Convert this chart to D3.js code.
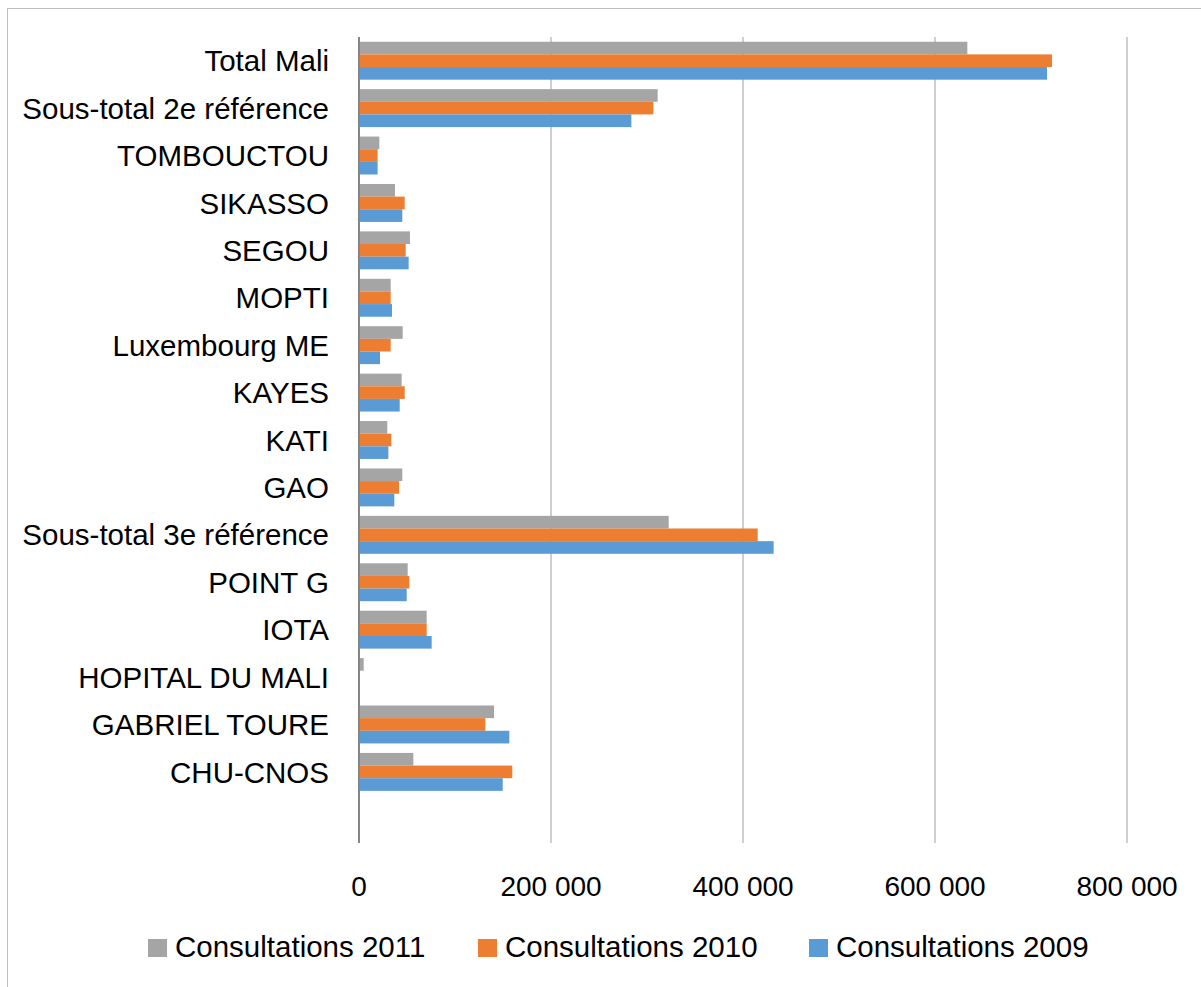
<!DOCTYPE html>
<html>
<head>
<meta charset="utf-8">
<script src="https://cdn.jsdelivr.net/npm/d3@7"></script>
<style>
  body { margin: 0; background: #fff; }
  text { font-family: "Liberation Sans", Arial, sans-serif; fill: #000; }
</style>
</head>
<body>
<script>
// categories top to bottom (last one is an empty slot, like the original sheet)
var categories = [
  'Total Mali', 'Sous-total 2e référence', 'TOMBOUCTOU', 'SIKASSO', 'SEGOU', 'MOPTI',
  'Luxembourg ME', 'KAYES', 'KATI', 'GAO', 'Sous-total 3e référence', 'POINT G',
  'IOTA', 'HOPITAL DU MALI', 'GABRIEL TOURE', 'CHU-CNOS', ''
];

var cons2011 = [633700, 311100, 21200, 37500, 53100, 33000, 45500, 44400, 29500, 45100, 322600, 50700, 70500, 4900, 140600, 56600, 0];
var cons2010 = [721900, 306600, 19400, 47600, 48600, 33000, 33000, 47600, 33700, 41700, 415300, 52400, 70500, 0, 131600, 159700, 0];
var cons2009 = [716700, 283700, 19400, 45100, 51700, 34400, 21900, 42400, 30600, 36800, 431900, 49700, 75700, 0, 156600, 149700, 0];

var seriesNames = ['Consultations 2011', 'Consultations 2010', 'Consultations 2009'];
var seriesValues = [cons2011, cons2010, cons2009];
var colors = ['#A5A5A5', '#ED7D31', '#5B9BD5'];
var xTicks = [0, 200000, 400000, 600000, 800000];

var W = 1201, H = 987;
var margin = {top: 37, left: 359};
var plotW = 1127 - 359, plotH = 843 - 37;

var svg = d3.select('body').append('svg')
  .attr('width', W)
  .attr('height', H);

// outer frame (only top/left edges visible in the picture)
svg.append('rect')
  .attr('x', 7.5).attr('y', 8.5)
  .attr('width', W + 20).attr('height', H + 20)
  .attr('fill', 'none')
  .attr('stroke', '#BFBFBF');

var g = svg.append('g')
  .attr('transform', 'translate(' + margin.left + ',' + margin.top + ')');

var x = d3.scaleLinear().domain([0, 800000]).range([0, plotW]);
var y = d3.scaleBand().domain(d3.range(categories.length)).range([0, plotH]).paddingInner(0.2).paddingOuter(0.1);
var ySub = d3.scaleBand().domain(d3.range(seriesNames.length)).range([0, y.bandwidth()]);

// gridlines
g.selectAll('.grid')
  .data(xTicks.slice(1))
  .enter().append('line')
  .attr('x1', function(d) { return x(d); })
  .attr('x2', function(d) { return x(d); })
  .attr('y1', 0).attr('y2', plotH)
  .attr('stroke', '#BFBFBF')
  .attr('stroke-width', 1.5);

// bars
seriesValues.forEach(function(vals, s) {
  var rows = vals.map(function(v, i) { return {i: i, v: v}; })
    .filter(function(d) { return d.v > 0; });
  g.selectAll('.bar' + s)
    .data(rows)
    .enter().append('rect')
    .attr('x', 0)
    .attr('y', function(d) { return y(d.i) + ySub(s); })
    .attr('width', function(d) { return x(d.v); })
    .attr('height', ySub.bandwidth())
    .attr('fill', colors[s]);
});

// category axis line
g.append('line')
  .attr('x1', 0).attr('x2', 0)
  .attr('y1', 0).attr('y2', plotH)
  .attr('stroke', '#868686')
  .attr('stroke-width', 2);

// category labels
g.selectAll('.cat')
  .data(categories)
  .enter().append('text')
  .attr('x', -30)
  .attr('y', function(d, i) { return y(i) + y.bandwidth() / 2; })
  .attr('dy', '0.36em')
  .attr('text-anchor', 'end')
  .attr('font-size', 29.5)
  .text(function(d) { return d; });

// value axis labels
var fmt = function(d) { return d3.format(',')(d).replace(/,/g, ' '); };
g.selectAll('.tick-label')
  .data(xTicks)
  .enter().append('text')
  .attr('x', function(d) { return x(d); })
  .attr('y', 896 - margin.top)
  .attr('text-anchor', 'middle')
  .attr('font-size', 28)
  .text(fmt);

// legend
var legendX = [148, 478, 809];
var legend = svg.selectAll('.legend')
  .data(seriesNames)
  .enter().append('g')
  .attr('transform', function(d, i) { return 'translate(' + legendX[i] + ',939)'; });

legend.append('rect')
  .attr('width', 19).attr('height', 18)
  .attr('fill', function(d, i) { return colors[i]; });

legend.append('text')
  .attr('x', 27).attr('y', 18)
  .attr('font-size', 29.5)
  .text(function(d) { return d; });
</script>
</body>
</html>
